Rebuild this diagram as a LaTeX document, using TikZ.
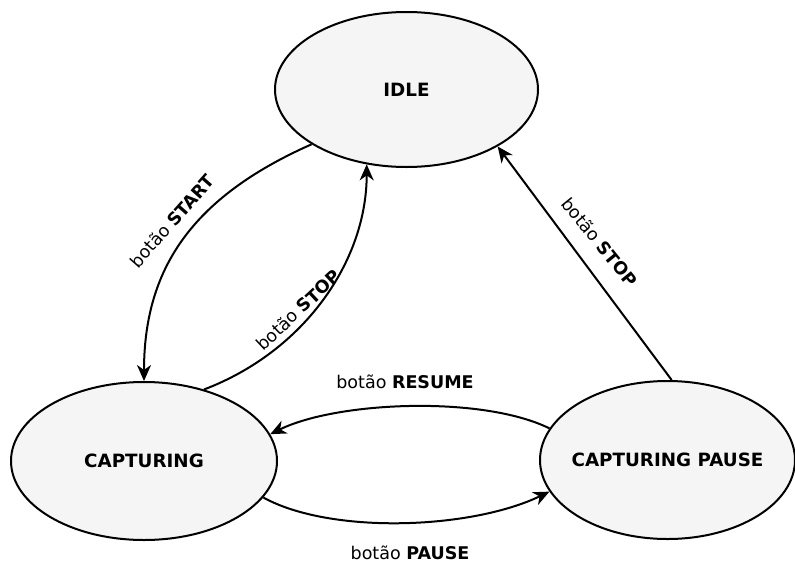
\documentclass[tikz,border=0pt]{standalone}
\usepackage{fontspec}
\setmainfont{DejaVu Sans}
\usetikzlibrary{shapes.geometric,arrows.meta}
\definecolor{statefill}{HTML}{F5F5F5}
\tikzset{
  state/.style={ellipse, draw=black, fill=statefill, line width=2pt,
    inner sep=0pt},
  statetext/.style={font=\fontsize{18.3}{22}\selectfont\bfseries, inner sep=0pt},
  trans/.style={line width=2pt, -{Stealth[length=16pt,width=14pt,inset=5pt]}},
  lbl/.style={inner sep=0pt, font=\fontsize{17.5}{21}\selectfont},
}
\begin{document}
\begin{tikzpicture}[x=1pt,y=-1pt]
  \useasboundingbox (0,0) rectangle (795,565);

  % states (the ellipse keeps its own size; the name sits at its centre)
  \node[state, minimum width=263pt, minimum height=155pt,
        label={[statetext]center:IDLE}] (idle) at (406.5,89.5) {};
  \node[state, minimum width=266pt, minimum height=158pt,
        label={[statetext]center:CAPTURING}] (cap) at (144,461) {};
  \node[state, minimum width=255pt, minimum height=158pt,
        label={[statetext]center:CAPTURING PAUSE}] (pause) at (667.5,460) {};

  % transitions
  \draw[trans] (idle.210.9) .. controls +(-122,54) and +(0,-110) .. (cap.90);
  \draw[trans] (cap.50.1) .. controls +(100,-38) and +(0,97) .. (idle.242.5);
  \draw[trans] (pause.87) -- (idle.328.8);
  \draw[trans] (pause.165.1) .. controls +(-67,-33) and +(67,-33) .. (cap.12.2);
  \draw[trans] (cap.-17.3) .. controls +(67,37) and +(-79,38) .. (pause.195.8);

  % labels
  \node[lbl, rotate=48.5] (lstart) at (172,221) {botão \textbf{START}};
  \node[lbl, rotate=43] (lstopa) at (298,310) {botão \textbf{STOP}};
  \node[lbl, rotate=-51] (lstopb) at (600,242) {botão \textbf{STOP}};
  \node[lbl] (lresume) at (405,382) {botão \textbf{RESUME}};
  \node[lbl] (lpause) at (410,553) {botão \textbf{PAUSE}};
\end{tikzpicture}
\end{document}
